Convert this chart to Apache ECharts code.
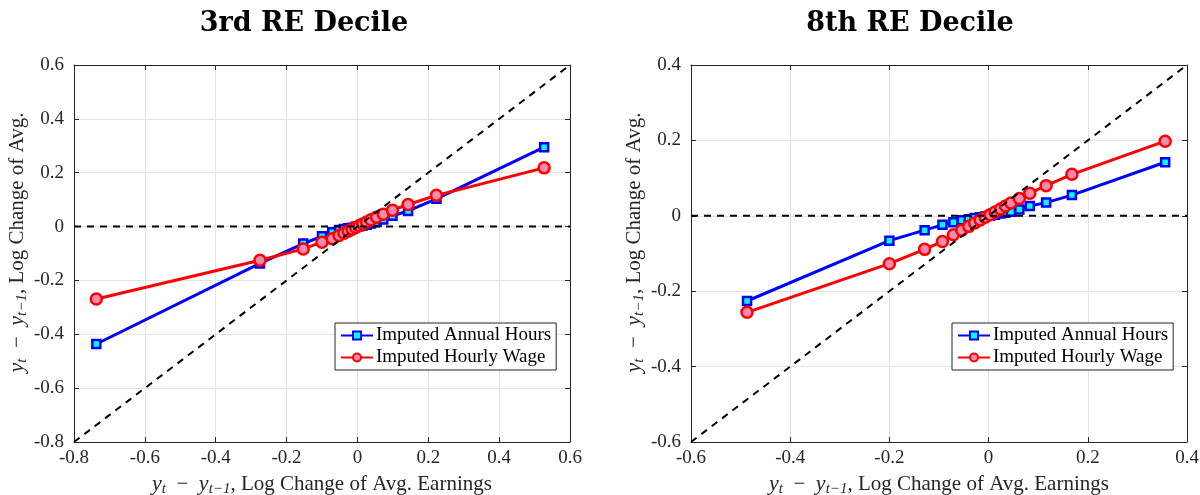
<!DOCTYPE html>
<html>
<head>
<meta charset="utf-8">
<script src="https://cdn.jsdelivr.net/npm/echarts@6/dist/echarts.min.js"></script>
<style>html,body{margin:0;padding:0;background:#fff}#c{width:1200px;height:495px}</style>
</head>
<body>
<div id="c"></div>
<script>
// ---- data ----
const panelTitles = ['3rd RE Decile', '8th RE Decile'];
const seriesNames = ['Imputed Annual Hours', 'Imputed Hourly Wage'];

const leftX     = [-0.737, -0.275, -0.153, -0.100, -0.071, -0.052, -0.038, -0.026, -0.015, -0.005, 0.005, 0.015, 0.026, 0.038, 0.054, 0.073, 0.099, 0.143, 0.223, 0.527];
const leftHours = [-0.436, -0.137, -0.063, -0.036, -0.021, -0.013, -0.009, -0.006, -0.004, -0.001, 0.001, 0.004, 0.007, 0.011, 0.017, 0.026, 0.040, 0.058, 0.103, 0.295];
const leftWage  = [-0.269, -0.125, -0.083, -0.058, -0.045, -0.033, -0.025, -0.017, -0.010, -0.003, 0.003, 0.010, 0.017, 0.025, 0.035, 0.046, 0.061, 0.082, 0.116, 0.218];

const rightX     = [-0.487, -0.200, -0.129, -0.093, -0.071, -0.054, -0.040, -0.028, -0.017, -0.007, 0.003, 0.013, 0.024, 0.034, 0.045, 0.062, 0.083, 0.116, 0.168, 0.356];
const rightHours = [-0.226, -0.066, -0.038, -0.024, -0.017, -0.012, -0.009, -0.006, -0.004, -0.002, 0.000, 0.003, 0.006, 0.008, 0.011, 0.017, 0.026, 0.035, 0.055, 0.142];
const rightWage  = [-0.256, -0.127, -0.089, -0.068, -0.050, -0.038, -0.028, -0.019, -0.011, -0.004, 0.003, 0.010, 0.018, 0.026, 0.034, 0.046, 0.060, 0.080, 0.110, 0.198];

const leftRange  = [-0.8, 0.6];   // both axes
const rightRange = [-0.6, 0.4];   // both axes
const tickStep = 0.2;

// ---- helpers ----
const zip = (a, b) => a.map((v, i) => [v, b[i]]);
const serif = 'Liberation Serif';
const txt = '#262626';
const fmt = v => { const r = Math.round(v * 10) / 10; return r === 0 ? '0' : String(r); };

function axisPair(gridIndex, range, pos, isX, show) {
  return {
    type: 'value', gridIndex, position: pos,
    min: range[0], max: range[1], interval: tickStep,
    axisLine: { show: true, onZero: false, lineStyle: { color: txt, width: 1 } },
    axisTick: { show: true, inside: true, length: 5, lineStyle: { color: txt } },
    axisLabel: { show: show, color: txt, fontFamily: serif, fontSize: 19, formatter: fmt, margin: isX ? 7 : 10 },
    splitLine: { show: show, lineStyle: { color: '#e3e3e3', width: 1 } }
  };
}

const nameStyle = {
  color: txt, fontFamily: serif, fontSize: 21,
  rich: {
    i: { fontStyle: 'italic', fontFamily: serif, fontSize: 22, color: txt, verticalAlign: 'bottom', lineHeight: 22 },
    s: { fontStyle: 'italic', fontFamily: serif, fontSize: 15, color: txt, verticalAlign: 'bottom', lineHeight: 16, padding: [0, 0, -2, 0] },
    m: { fontFamily: serif, fontSize: 21, color: txt, verticalAlign: 'bottom', lineHeight: 22 },
    r: { fontFamily: serif, fontSize: 21, color: txt, verticalAlign: 'bottom', lineHeight: 22 }
  }
};
const xName = {
  name: '{i|y}{s|t}{m|  −  }{i|y}{s|t−1}{r|, Log Change of Avg. Earnings}',
  nameLocation: 'middle', nameGap: 31,
  nameTextStyle: nameStyle
};
const yName = {
  name: '{i|y}{s|t}{m|  −  }{i|y}{s|t−1}{r|, Log Change of Avg.}',
  nameLocation: 'middle', nameGap: 38,
  nameTextStyle: Object.assign({}, nameStyle, { padding: [0, 0, 0, 22] })
};

const xAxes = [
  Object.assign(axisPair(0, leftRange, 'bottom', true, true), xName),
  axisPair(0, leftRange, 'top', true, false),
  Object.assign(axisPair(1, rightRange, 'bottom', true, true), xName),
  axisPair(1, rightRange, 'top', true, false)
];
const yAxes = [
  Object.assign(axisPair(0, leftRange, 'left', false, true), yName),
  axisPair(0, leftRange, 'right', false, false),
  Object.assign(axisPair(1, rightRange, 'left', false, true), yName),
  axisPair(1, rightRange, 'right', false, false)
];

function dataSeries(name, xi, yi, xs, ys) {
  const hours = name === seriesNames[0];
  return {
    name, type: 'line', xAxisIndex: xi, yAxisIndex: yi,
    data: zip(xs, ys),
    symbol: hours ? 'rect' : 'circle',
    symbolSize: hours ? 8 : 11,
    showSymbol: true,
    lineStyle: { color: hours ? '#0000ff' : '#ff0000', width: 3 },
    itemStyle: { color: hours ? '#00ffff' : '#f58bb0', borderColor: hours ? '#0000ff' : '#ff0000', borderWidth: 2.5 },
    emphasis: { disabled: true },
    z: hours ? 3 : 4
  };
}
function refLine(xi, yi, pts) {
  return {
    type: 'line', xAxisIndex: xi, yAxisIndex: yi, data: pts, symbol: 'none',
    lineStyle: { color: '#000', width: 2, type: [7, 6] }, silent: true, z: 6
  };
}
function legendAt(left) {
  return {
    data: seriesNames, left, top: 323, orient: 'vertical',
    backgroundColor: '#fff', borderColor: txt, borderWidth: 1, padding: [3, 5, 3, 5], itemGap: 3,
    itemWidth: 32, itemHeight: 10, selectedMode: false,
    textStyle: { fontFamily: serif, fontSize: 19, color: '#000', padding: [0, 0, 0, -2] }
  };
}

const titleStyle = { fontFamily: 'DejaVu Serif', fontWeight: 'bold', fontSize: 27, color: '#000' };

const option = {
  animation: false,
  backgroundColor: '#fff',
  title: [
    { text: panelTitles[0], left: 299, top: 5, textAlign: 'center', textStyle: titleStyle },
    { text: panelTitles[1], left: 905, top: 5, textAlign: 'center', textStyle: titleStyle }
  ],
  grid: [
    { left: 74, right: 630, top: 65, bottom: 53, outerBoundsMode: 'none', containLabel: false },
    { left: 691, right: 13, top: 65, bottom: 53, outerBoundsMode: 'none', containLabel: false }
  ],
  xAxis: xAxes,
  yAxis: yAxes,
  legend: [legendAt(335), legendAt(952)],
  series: [
    dataSeries(seriesNames[0], 0, 0, leftX, leftHours),
    dataSeries(seriesNames[1], 0, 0, leftX, leftWage),
    dataSeries(seriesNames[0], 2, 2, rightX, rightHours),
    dataSeries(seriesNames[1], 2, 2, rightX, rightWage),
    refLine(0, 0, [[leftRange[0], 0], [leftRange[1], 0]]),
    refLine(0, 0, [[leftRange[0], leftRange[0]], [leftRange[1], leftRange[1]]]),
    refLine(2, 2, [[rightRange[0], 0], [rightRange[1], 0]]),
    refLine(2, 2, [[rightRange[0], rightRange[0]], [rightRange[1], rightRange[1]]])
  ]
};

const chart = echarts.init(document.getElementById('c'), null, { renderer: 'canvas' });
chart.setOption(option);
</script>
</body>
</html>
